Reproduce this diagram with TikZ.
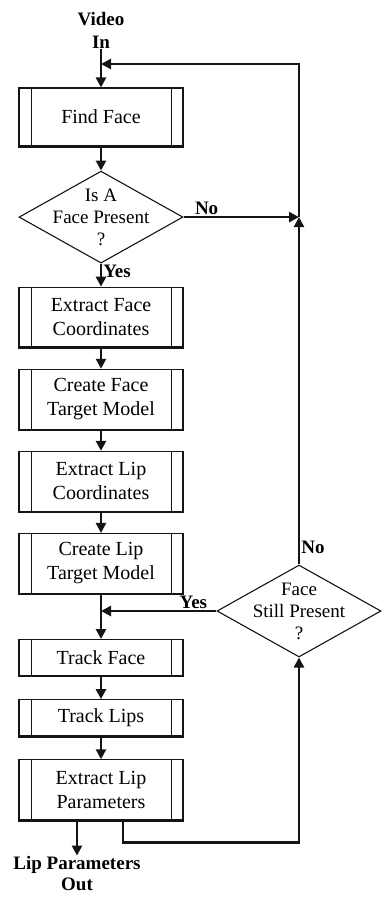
\documentclass[tikz,border=0pt]{standalone}
\usepackage{fontspec}
\setmainfont{Liberation Serif}
\usepackage{tikz}
\usetikzlibrary{arrows.meta,positioning,shapes.geometric,calc}
\definecolor{fcedge}{RGB}{20,20,20}
\tikzset{
  proc/.style={
    draw=fcedge, line width=1.1pt, align=center, fill=white,
    minimum width=164pt, minimum height=60pt, inner sep=2pt,
    font=\fontsize{20}{24}\selectfont,
    path picture={
      \draw[line width=0.9pt]
        ([xshift=12pt]path picture bounding box.south west) --
        ([xshift=12pt]path picture bounding box.north west)
        ([xshift=-12pt]path picture bounding box.south east) --
        ([xshift=-12pt]path picture bounding box.north east);
    }
  },
  shortproc/.style={proc, minimum height=36pt},
  dec/.style={
    draw=fcedge, line width=1.1pt, shape=diamond, inner sep=0pt,
    minimum width=164pt, minimum height=92pt
  },
  dtxt/.style={align=center, inner sep=0pt, font=\fontsize{19}{22}\selectfont},
  lbl/.style={align=center, inner sep=1pt, font=\fontsize{19}{23}\selectfont\bfseries},
  arr/.style={-{Triangle[length=10pt,width=10pt]}, draw=fcedge, line width=2.6pt},
  wire/.style={draw=fcedge, line width=2.6pt}
}
\begin{document}
\begin{tikzpicture}[x=1pt,y=1pt,node distance=21pt]
  \useasboundingbox (0,0) rectangle (382,-898);
  \node[lbl] (vid) at (101,-30) {Video\\In};
  \node[proc, minimum height=58pt] (ff) at (101,-117) {Find Face};
  \node[dec, below=24pt of ff] (d1) {};
  \node[dtxt] (d1t) at (d1) {Is A\\Face Present\\?};
  \node[proc, below=23pt of d1] (efc) {Extract Face\\Coordinates};
  \node[proc, below=of efc] (cfm) {Create Face\\Target Model};
  \node[proc, below=of cfm] (elc) {Extract Lip\\Coordinates};
  \node[proc, below=of elc] (clm) {Create Lip\\Target Model};
  \node[shortproc, below=45pt of clm] (tf) {Track Face};
  \node[shortproc, below=23pt of tf] (tl) {Track Lips};
  \node[proc, below=23pt of tl] (elp) {Extract Lip\\Parameters};
  \node[dec] (d2) at (299,-611) {};
  \node[dtxt] (d2t) at (d2) {Face\\Still Present\\?};
  \node[lbl, font=\fontsize{19}{21}\selectfont\bfseries] (out) at (77,-874) {Lip Parameters\\Out};
  \coordinate (loop) at (299,-64);
  \coordinate (join) at (d1.east -| d2.north);

  % thick bottom edges
  \foreach \n in {ff,efc,cfm,elc,clm,tf,tl,elp}
    \draw[wire] (\n.south west) -- (\n.south east);

  \draw[arr] (vid) -- (ff);
  \draw[arr] (ff) -- (d1);
  \draw[arr] (d1) -- node[lbl, right, pos=0.35] {Yes} (efc);
  \draw[arr] (efc) -- (cfm);
  \draw[arr] (cfm) -- (elc);
  \draw[arr] (elc) -- (clm);
  \draw[arr] (clm) -- (tf);
  \draw[arr] (tf) -- (tl);
  \draw[arr] (tl) -- (elp);
  \draw[arr] (elp.south -| out.north) -- (out.north);
  \draw[arr] (d1.east) -- node[lbl, above, pos=0.2] {No} (join);
  \draw[arr] (d2.north) -- node[lbl, right, pos=0.05] {No} (join);
  \draw[arr] (join) -- (loop) -- (loop -| ff.north);
  \draw[arr] (d2.west) -- node[lbl, above, pos=0.2] {Yes} (d2.west -| clm.south);
  \draw[arr] ([xshift=22pt]elp.south) -- ++(0,-22) -| (d2.south);
\end{tikzpicture}
\end{document}
